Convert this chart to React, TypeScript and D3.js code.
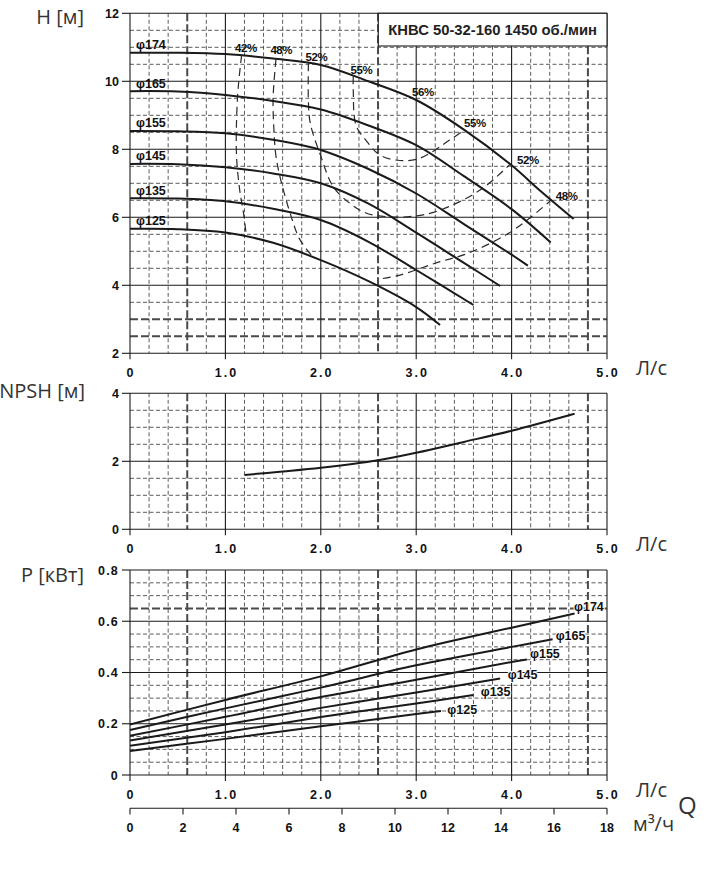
import React from 'react';
import * as d3 from 'd3';

// ---------- DATA ----------
const diameters = ['174', '165', '155', '145', '135', '125'];

// Head curves H(Q), Q in L/s, H in m
const headQ = [
  [0, 0.5, 1.0, 1.5, 2.0, 2.5, 3.0, 3.5, 4.0, 4.3, 4.65],
  [0, 0.5, 1.0, 1.5, 2.0, 2.5, 3.0, 3.5, 4.0, 4.41],
  [0, 0.5, 1.0, 1.5, 2.0, 2.5, 3.0, 3.5, 4.0, 4.17],
  [0, 0.5, 1.0, 1.5, 2.0, 2.5, 3.0, 3.5, 3.88],
  [0, 0.5, 1.0, 1.5, 2.0, 2.5, 3.0, 3.6],
  [0, 0.5, 1.0, 1.5, 2.0, 2.5, 3.0, 3.25],
];
const headH = [
  [10.84, 10.84, 10.8, 10.67, 10.48, 10.0, 9.45, 8.58, 7.53, 6.78, 5.95],
  [9.71, 9.7, 9.6, 9.42, 9.17, 8.7, 8.12, 7.21, 6.24, 5.26],
  [8.54, 8.53, 8.47, 8.28, 7.98, 7.42, 6.7, 5.8, 4.9, 4.58],
  [7.57, 7.56, 7.47, 7.29, 7.0, 6.4, 5.55, 4.66, 3.98],
  [6.56, 6.55, 6.47, 6.25, 5.92, 5.28, 4.45, 3.42],
  [5.66, 5.65, 5.55, 5.25, 4.74, 4.12, 3.36, 2.83],
];

// Iso-efficiency lines (dashed)
const effQ = [
  [1.17, 1.135, 1.117, 1.117, 1.15, 1.19, 1.22],
  [1.53, 1.5, 1.51, 1.53, 1.58, 1.69, 1.78, 1.92],
  [2.65, 2.83, 3.2, 3.55, 3.95, 4.2, 4.42],
  [1.87, 1.87, 1.89, 2.0, 2.13, 2.31, 2.48, 2.69, 2.93, 3.21, 3.67, 3.98],
  [2.34, 2.34, 2.37, 2.48, 2.62, 2.83, 3.04, 3.35, 3.5],
];
const effH = [
  [10.77, 9.84, 8.86, 7.78, 6.8, 6.12, 5.45],
  [10.65, 9.5, 8.5, 7.8, 7.1, 6.02, 5.35, 4.82],
  [4.2, 4.3, 4.65, 4.95, 5.5, 6.0, 6.52],
  [10.53, 9.4, 8.76, 7.8, 6.9, 6.4, 6.12, 6.02, 6.02, 6.17, 6.8, 7.55],
  [10.15, 9.74, 8.7, 8.24, 7.83, 7.67, 7.74, 8.27, 8.56],
];
const effLabels = ['42%', '48%', '52%', '55%', '56%', '55%', '52%', '48%'];
const effLabelQ = [1.214, 1.586, 1.953, 2.427, 3.07, 3.616, 4.17, 4.577];
const effLabelH = [10.99, 10.92, 10.72, 10.35, 9.69, 8.79, 7.69, 6.63];

// NPSH curve
const npshQ = [1.2, 1.6, 2.0, 2.6, 3.0, 3.5, 4.0, 4.66];
const npshV = [1.6, 1.7, 1.81, 2.03, 2.25, 2.57, 2.9, 3.4];

// Power curves P(Q), kW
const powerQ = [
  [0, 1, 2, 3, 4, 4.66],
  [0, 1, 2, 3, 4, 4.43],
  [0, 1, 2, 3, 4, 4.16],
  [0, 1, 2, 3, 3.88],
  [0, 1, 2, 3, 3.6],
  [0, 1, 2, 3, 3.26],
];
const powerP = [
  [0.197, 0.293, 0.385, 0.49, 0.575, 0.63],
  [0.176, 0.26, 0.341, 0.428, 0.5, 0.53],
  [0.153, 0.227, 0.304, 0.372, 0.441, 0.451],
  [0.135, 0.197, 0.262, 0.322, 0.377],
  [0.114, 0.167, 0.226, 0.279, 0.312],
  [0.094, 0.141, 0.19, 0.238, 0.25],
];
const powerLabelQ = [4.654, 4.462, 4.193, 3.959, 3.676, 3.326];
const powerLabelP = [0.64, 0.527, 0.457, 0.375, 0.308, 0.238];

// Axis ticks
const qTicks = [0, 1, 2, 3, 4, 5];
const qTickLabels = ['0', '1.0', '2.0', '3.0', '4.0', '5.0'];
const m3hTicks = [0, 2, 4, 6, 8, 10, 12, 14, 16, 18];
const hTicks = [2, 4, 6, 8, 10, 12];
const npshTicks = [0, 2, 4];
const pTicks = [0, 0.2, 0.4, 0.6, 0.8];
const pTickLabels = ['0', '0.2', '0.4', '0.6', '0.8'];
const thickQ = [0.6, 2.6, 4.8];
const title = 'КНВС 50-32-160 1450 об./мин';

// ---------- LAYOUT ----------
const W = 711;
const HH = 891;
const X0 = 130;
const X1 = 607;
const x = d3.scaleLinear().domain([0, 5]).range([X0, X1]);
const xM = d3.scaleLinear().domain([0, 18]).range([X0, X1]);
const yH = d3.scaleLinear().domain([2, 12]).range([353.3, 13.3]);
const yN = d3.scaleLinear().domain([0, 4]).range([529.3, 393.3]);
const yP = d3.scaleLinear().domain([0, 0.8]).range([775, 570]);

const BOLD = "'Liberation Sans', Arial, Helvetica, sans-serif";
const LIGHT = "'Open Sans', 'Noto Sans', sans-serif";
const near = (a: number, list: number[]) => list.some((v) => Math.abs(v - a) < 1e-6);
const isInt = (v: number) => Math.abs(v - Math.round(v)) < 1e-6;

function Panel(props: {
  y: d3.ScaleLinear<number, number>;
  step: number;
  solid: number[];
  thick: number[];
  ticks: number[];
  tickLabels: string[];
  spaced?: boolean;
}) {
  const { y, step, solid, thick, ticks, tickLabels, spaced } = props;
  const [d0, d1] = y.domain();
  const yb = y(d0);
  const yt = y(d1);
  const xs = d3.range(0, 5.0001, 0.2).map((v) => +v.toFixed(2));
  const ys = d3.range(d0, d1 + step / 100, step).map((v) => +v.toFixed(3));
  const lineStyle = (kind: string) =>
    kind === 'solid'
      ? { stroke: '#1a1a1a', strokeWidth: 1.1 }
      : kind === 'thick'
      ? { stroke: '#4a4a4a', strokeWidth: 2, strokeDasharray: '8,3' }
      : { stroke: '#4a4a4a', strokeWidth: 0.9, strokeDasharray: '4,2.5' };
  return (
    <g>
      {ys.map((v, i) => {
        const kind = near(v, solid) ? 'solid' : near(v, thick) ? 'thick' : 'thin';
        if (kind === 'solid') return null;
        return <line key={'h' + i} x1={X0} x2={X1} y1={y(v)} y2={y(v)} {...lineStyle(kind)} />;
      })}
      {xs.map((v, i) => {
        const kind = isInt(v) ? 'solid' : near(v, thickQ) ? 'thick' : 'thin';
        if (kind === 'solid') return null;
        return <line key={'v' + i} x1={x(v)} x2={x(v)} y1={yt} y2={yb} {...lineStyle(kind)} />;
      })}
      {ys.filter((v) => near(v, solid)).map((v, i) => (
        <line key={'hs' + i} x1={X0} x2={X1} y1={y(v)} y2={y(v)} {...lineStyle('solid')} />
      ))}
      {qTicks.map((v, i) => (
        <line key={'vs' + i} x1={x(v)} x2={x(v)} y1={yt} y2={yb} {...lineStyle('solid')} />
      ))}
      {ticks.map((v, i) => (
        <g key={'yt' + i}>
          <line x1={X0 - 8} x2={X0} y1={y(v)} y2={y(v)} stroke="#1a1a1a" strokeWidth={1.1} />
          <text
            x={119}
            y={y(v)}
            dy="0.36em"
            textAnchor="end"
            fontFamily={BOLD}
            fontWeight="bold"
            fontSize={12.5}
            letterSpacing={spaced ? 1.2 : 0}
            fill="#111"
          >
            {tickLabels[i]}
          </text>
        </g>
      ))}
      {qTicks.map((v, i) => (
        <g key={'xt' + i}>
          <line x1={x(v)} x2={x(v)} y1={yb} y2={yb + 6} stroke="#1a1a1a" strokeWidth={1.1} />
          <text
            x={x(v) + (i === 0 ? 0 : 1)}
            y={yb + 23.5}
            textAnchor="middle"
            fontFamily={BOLD}
            fontWeight="bold"
            fontSize={12.5}
            letterSpacing={i === 0 ? 0 : 2}
            fill="#111"
          >
            {qTickLabels[i]}
          </text>
        </g>
      ))}
      <text x={636} y={yb + 22} fontFamily={LIGHT} fontSize={20} fill="#333">
        Л/с
      </text>
    </g>
  );
}

export default function App() {
  const smooth = d3.curveCatmullRom.alpha(0.5);
  const hLine = d3
    .line<[number, number]>()
    .x((d) => x(d[0]))
    .y((d) => yH(d[1]))
    .curve(smooth);
  const nLine = d3
    .line<[number, number]>()
    .x((d) => x(d[0]))
    .y((d) => yN(d[1]))
    .curve(smooth);
  const pLine = d3
    .line<[number, number]>()
    .x((d) => x(d[0]))
    .y((d) => yP(d[1]))
    .curve(smooth);

  const zip = (a: number[], b: number[]) => a.map((v, i) => [v, b[i]] as [number, number]);

  return (
    <svg
      width={W}
      height={HH}
      viewBox={`0 0 ${W} ${HH}`}
      style={{ position: 'absolute', left: 0, top: 0, background: '#fff' }}
    >
      <rect x={0} y={0} width={W} height={HH} fill="#fff" />

      {/* Axis titles */}
      <text x={84} y={24} textAnchor="end" fontFamily={LIGHT} fontSize={20} fill="#333">
        H [м]
      </text>
      <text x={85} y={398} textAnchor="end" fontFamily={LIGHT} fontSize={20} fill="#333">
        NPSH [м]
      </text>
      <text x={84} y={581.5} textAnchor="end" fontFamily={LIGHT} fontSize={20} fill="#333">
        P [кВт]
      </text>

      {/* Head panel */}
      <Panel y={yH} step={0.5} solid={[2, 4, 6, 8, 10, 12]} thick={[2.5, 3]} ticks={hTicks} tickLabels={hTicks.map(String)} />
      {/* NPSH panel */}
      <Panel y={yN} step={0.5} solid={[0, 2, 4]} thick={[]} ticks={npshTicks} tickLabels={npshTicks.map(String)} />
      {/* Power panel */}
      <Panel y={yP} step={0.05} solid={[0, 0.2, 0.4, 0.6, 0.8]} thick={[0.65]} ticks={pTicks} tickLabels={pTickLabels} spaced />

      {/* Title box */}
      <rect x={378.3} y={yH(12)} width={X1 - 378.3} height={32.7} fill="#fff" stroke="#1a1a1a" strokeWidth={1.1} />
      <text
        x={(378.3 + X1) / 2}
        y={yH(12) + 21.5}
        textAnchor="middle"
        fontFamily={BOLD}
        fontWeight="bold"
        fontSize={14.8}
        fill="#222"
      >
        {title}
      </text>

      {/* Efficiency dashed lines */}
      {effQ.map((qs, i) => (
        <path
          key={'e' + i}
          d={hLine(zip(qs, effH[i])) || ''}
          fill="none"
          stroke="#2a2a2a"
          strokeWidth={1.2}
          strokeDasharray="8,5"
        />
      ))}

      {/* Head curves */}
      {headQ.map((qs, i) => (
        <g key={'hc' + i}>
          <path d={hLine(zip(qs, headH[i])) || ''} fill="none" stroke="#1a1a1a" strokeWidth={2} />
          <text
            x={x(0) + 6}
            y={yH(headH[i][0]) - 3.6}
            fontFamily={BOLD}
            fontWeight="bold"
            fontSize={12.5}
            fill="#111"
          >
            {'φ' + diameters[i]}
          </text>
        </g>
      ))}

      {/* Efficiency labels */}
      {effLabels.map((t, i) => (
        <text
          key={'el' + i}
          x={x(effLabelQ[i])}
          y={yH(effLabelH[i])}
          dy="0.36em"
          textAnchor="middle"
          fontFamily={BOLD}
          fontWeight="bold"
          fontSize={11.5}
          letterSpacing={-0.4}
          fill="#111"
        >
          {t}
        </text>
      ))}

      {/* NPSH curve */}
      <path d={nLine(zip(npshQ, npshV)) || ''} fill="none" stroke="#1a1a1a" strokeWidth={2} />

      {/* Power curves */}
      {powerQ.map((qs, i) => (
        <g key={'pc' + i}>
          <path d={pLine(zip(qs, powerP[i])) || ''} fill="none" stroke="#1a1a1a" strokeWidth={2} />
          <text
            x={x(powerLabelQ[i])}
            y={yP(powerLabelP[i])}
            fontFamily={BOLD}
            fontWeight="bold"
            fontSize={12.5}
            fill="#111"
            style={{ paintOrder: 'stroke' }}
            stroke="#fff"
            strokeWidth={2}
          >
            {'φ' + diameters[i]}
          </text>
        </g>
      ))}

      {/* m3/h axis */}
      <line x1={X0} x2={X1} y1={808.3} y2={808.3} stroke="#1a1a1a" strokeWidth={1.1} />
      {m3hTicks.map((v, i) => (
        <g key={'m' + i}>
          <line x1={xM(v)} x2={xM(v)} y1={808.3} y2={814.5} stroke="#1a1a1a" strokeWidth={1.1} />
          <text x={xM(v)} y={831.5} textAnchor="middle" fontFamily={BOLD} fontWeight="bold" fontSize={12.5} fill="#111">
            {String(v)}
          </text>
        </g>
      ))}
      <text x={633} y={831} fontFamily={LIGHT} fontSize={20} fill="#333">
        м³/ч
      </text>
      <text x={678} y={814} fontFamily={LIGHT} fontSize={24} fill="#333">
        Q
      </text>
    </svg>
  );
}
